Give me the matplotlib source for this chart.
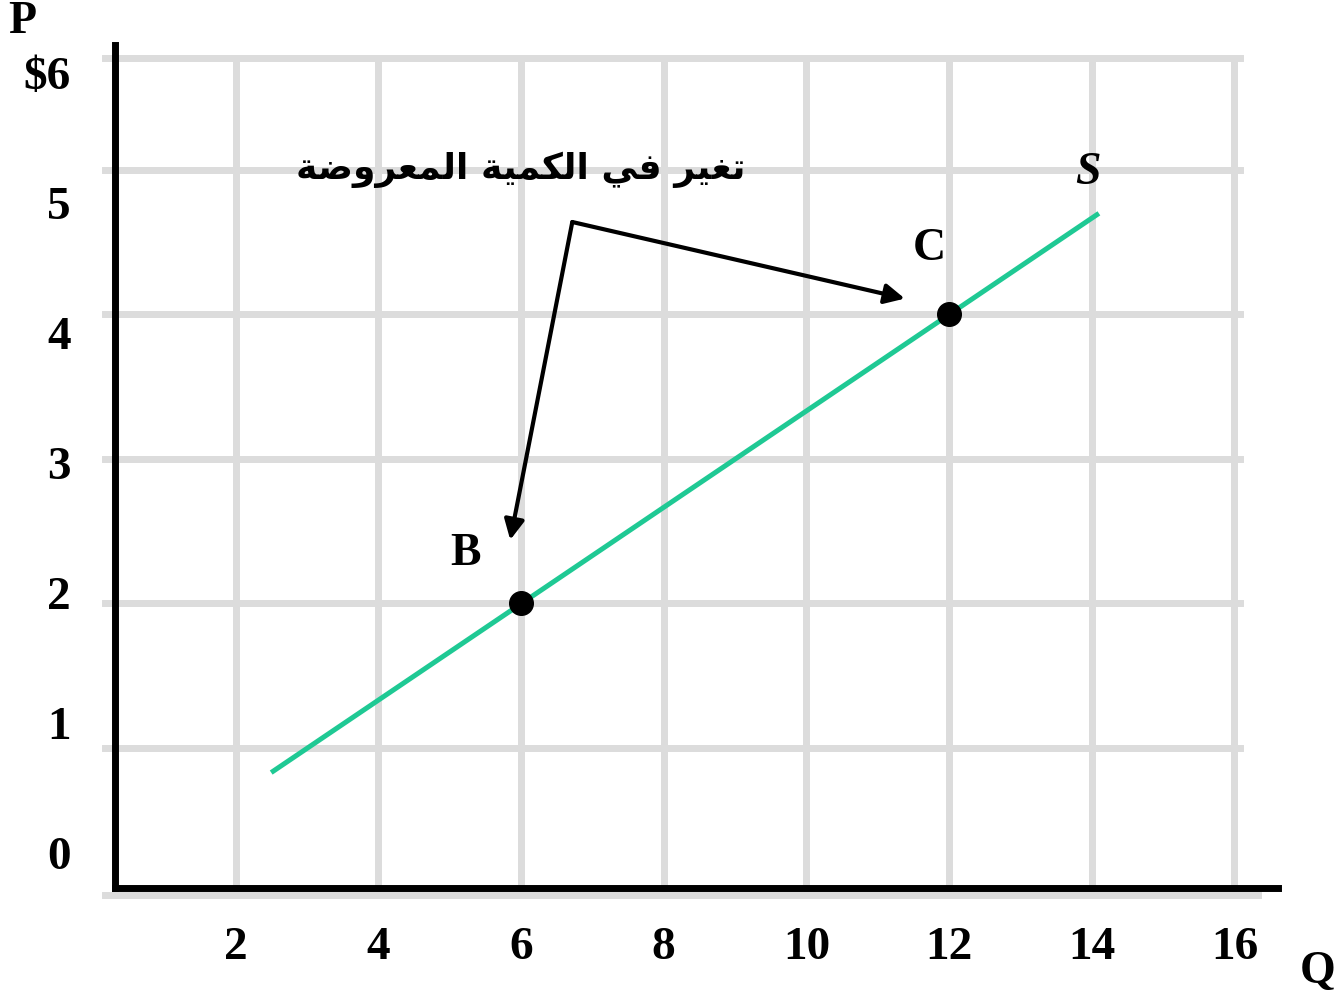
import numpy as np
import matplotlib
matplotlib.use("Agg")
import matplotlib.pyplot as plt

# Supply curve and the two marked points
supply_q = [2.5, 14.1]
supply_p = [0.83, 4.7]
point_names = ["B", "C"]
point_q = [6, 12]
point_p = [2, 4]

x_ticks = [2, 4, 6, 8, 10, 12, 14, 16]
x_labels = ["2", "4", "6", "8", "10", "12", "14", "16"]
y_labels = ["0", "1", "2", "3", "4", "5", "$6"]

note = "تغير في الكمية المعروضة"

# minimal arabic shaping (matplotlib has no shaping / bidi)
forms = {
    'ت': ('\uFE95', '\uFE96', '\uFE97', '\uFE98'),
    'غ': ('\uFECD', '\uFECE', '\uFECF', '\uFED0'),
    'ي': ('\uFEF1', '\uFEF2', '\uFEF3', '\uFEF4'),
    'ر': ('\uFEAD', '\uFEAE', None, None),
    'ف': ('\uFED1', '\uFED2', '\uFED3', '\uFED4'),
    'ا': ('\uFE8D', '\uFE8E', None, None),
    'ل': ('\uFEDD', '\uFEDE', '\uFEDF', '\uFEE0'),
    'ك': ('\uFED9', '\uFEDA', '\uFEDB', '\uFEDC'),
    'م': ('\uFEE1', '\uFEE2', '\uFEE3', '\uFEE4'),
    'ة': ('\uFE93', '\uFE94', None, None),
    'ع': ('\uFEC9', '\uFECA', '\uFECB', '\uFECC'),
    'و': ('\uFEED', '\uFEEE', None, None),
    'ض': ('\uFEBD', '\uFEBE', '\uFEBF', '\uFEC0'),
}

def shape(word):
    out = []
    for i, ch in enumerate(word):
        f = forms[ch]
        joined_before = i > 0 and forms[word[i - 1]][2] is not None
        joins_after = i < len(word) - 1 and f[2] is not None
        if joined_before and joins_after:
            out.append(f[3])
        elif joined_before:
            out.append(f[1])
        elif joins_after:
            out.append(f[2])
        else:
            out.append(f[0])
    return "".join(out)

note_visual = " ".join(shape(w)[::-1] for w in note.split()[::-1])

serif = ["Liberation Serif", "DejaVu Serif"]
grid_col = "#dcdcdc"
grid_top = 5.775

fig = plt.figure(figsize=(13.39, 10), dpi=100)
ax = fig.add_axes([115 / 1339, 112 / 1000, 1163 / 1339, 843 / 1000])
ax.set_xlim(0.311, 16.61)
ax.set_ylim(0.031, 5.865)

# grid drawn by hand (box shaped, top line squeezed like the original)
for q in x_ticks:
    ax.plot([q, q], [0.031, grid_top], color=grid_col, lw=5, zorder=1, clip_on=False)
for p in [1, 2, 3, 4, 5, grid_top]:
    ax.plot([0.17, 16.08], [p, p], color=grid_col, lw=5, zorder=1, clip_on=False)
ax.plot([0.17, 16.33], [-0.017, -0.017], color=grid_col, lw=5, zorder=1, clip_on=False)

ax.plot(supply_q, supply_p, color="#1fc994", lw=3.6, zorder=3, solid_capstyle="butt")
ax.plot(point_q, point_p, "o", color="black", ms=17, zorder=4)

ax.text(5.23, 2.34, point_names[0], fontsize=33, fontweight="bold", family=serif,
        ha="center", va="center")
ax.text(11.73, 4.45, point_names[1], fontsize=33, fontweight="bold", family=serif,
        ha="center", va="center")
ax.text(13.95, 4.98, "S", fontsize=33, fontweight="bold", style="italic", family=serif,
        ha="center", va="center")

ax.text(5.99, 5.0, note_visual, fontsize=26, fontweight="bold", family=["DejaVu Sans"],
        ha="center", va="center")

# bent arrow from the note down to B and over to C
vx, vy = 6.72, 4.64
for tx, ty in [(5.85, 2.44), (11.38, 4.11)]:
    ax.annotate("", xy=(tx, ty), xytext=(vx, vy),
                arrowprops=dict(arrowstyle="-|>", color="black", lw=3,
                                mutation_scale=30, shrinkA=0, shrinkB=0))

for s in ["top", "right"]:
    ax.spines[s].set_visible(False)
for s in ["left", "bottom"]:
    ax.spines[s].set_linewidth(5)
    ax.spines[s].set_color("black")
    ax.spines[s].set_zorder(5)

ax.set_xticks(x_ticks, x_labels)
ax.set_yticks(np.linspace(0.27, 5.67, 7), y_labels)
ax.tick_params(length=0, labelsize=34)
ax.tick_params(axis="x", pad=28)
ax.tick_params(axis="y", pad=32)
for lab in ax.get_xticklabels() + ax.get_yticklabels():
    lab.set_fontweight("bold")
    lab.set_family(serif)

fig.text(22 / 1339, 1 - 22 / 1000, "P", fontsize=33, fontweight="bold", family=serif,
         ha="center", va="center")
fig.text(1318 / 1339, 1 - 972 / 1000, "Q", fontsize=33, fontweight="bold", family=serif,
         ha="center", va="center")

fig.savefig("out.png", dpi=100, facecolor="white")
